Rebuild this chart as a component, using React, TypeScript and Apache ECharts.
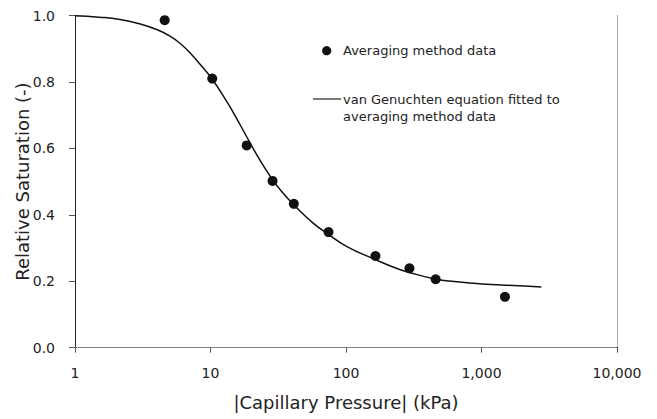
import React, { useEffect, useRef } from "react";
import * as echarts from "echarts";

// Measured data (|capillary pressure| kPa, relative saturation)
const dataPressure = [4.59, 10.3, 18.5, 28.7, 41.2, 74.3, 165, 294, 459, 1490];
const dataSaturation = [0.986, 0.81, 0.609, 0.502, 0.433, 0.348, 0.276, 0.239, 0.206, 0.153];

// Fitted van Genuchten curve
const curvePressure = [1, 1.5, 2.15, 3.0, 4.0, 5.02, 6.0, 7.05, 8.5, 10.3, 13.1, 15.5, 18.5, 23, 28.7, 34, 41.2, 57.2, 73.8, 100.8, 163, 235, 290, 452, 600, 818, 1527, 2765];
const curveSaturation = [0.999, 0.995, 0.988, 0.975, 0.958, 0.938, 0.915, 0.888, 0.85, 0.808, 0.743, 0.692, 0.635, 0.567, 0.506, 0.467, 0.43, 0.375, 0.342, 0.305, 0.266, 0.239, 0.227, 0.207, 0.2, 0.195, 0.188, 0.183];

const yTicks = [0, 0.2, 0.4, 0.6, 0.8, 1.0];
const xTicks = [1, 10, 100, 1000, 10000];

const legendScatter = "Averaging method data";
const legendLine = "van Genuchten equation fitted to\naveraging method data";

const FONT = "DejaVu Sans";

export default function App() {
  const ref = useRef<HTMLDivElement>(null);
  useEffect(() => {
    if (!ref.current) return;
    const chart = echarts.init(ref.current, null, { renderer: "svg" });
    const scatter = dataPressure.map((p, i) => [p, dataSaturation[i]]);
    const curve = curvePressure.map((p, i) => [p, curveSaturation[i]]);
    chart.setOption({
      animation: false,
      backgroundColor: "#fff",
      textStyle: { fontFamily: FONT },
      grid: { left: 75, right: 40, top: 15.5, bottom: 71.3, containLabel: false, outerBoundsMode: "none" },
      xAxis: [
        {
          type: "log",
          logBase: 10,
          min: xTicks[0],
          max: xTicks[xTicks.length - 1],
          name: "|Capillary Pressure| (kPa)",
          nameLocation: "middle",
          nameGap: 46,
          nameMoveOverlap: false,
          nameTextStyle: { fontSize: 18, color: "#222", fontFamily: FONT },
          axisLine: { lineStyle: { color: "#222", width: 1 } },
          axisTick: { show: true, inside: false, length: 5, lineStyle: { color: "#555" } },
          minorTick: { show: false },
          axisLabel: {
            fontSize: 14,
            color: "#222",
            margin: 18,
            fontFamily: FONT,
            formatter: (v: number) => Math.round(v).toLocaleString("en-US"),
          },
          splitLine: { show: false },
        },
        {
          type: "log",
          logBase: 10,
          min: xTicks[0],
          max: xTicks[xTicks.length - 1],
          position: "top",
          axisLine: { lineStyle: { color: "#999", type: "dotted", width: 1 } },
          axisTick: { show: false },
          axisLabel: { show: false },
          splitLine: { show: false },
        },
      ],
      yAxis: [
        {
          type: "value",
          min: yTicks[0],
          max: yTicks[yTicks.length - 1],
          interval: 0.2,
          name: "Relative Saturation (-)",
          nameLocation: "middle",
          nameGap: 44,
          nameMoveOverlap: false,
          nameTextStyle: { fontSize: 18, color: "#222", fontFamily: FONT },
          axisLine: { show: true, lineStyle: { color: "#222", width: 1 } },
          axisTick: { show: true, inside: false, length: 6, lineStyle: { color: "#555" } },
          axisLabel: {
            fontSize: 14,
            color: "#222",
            margin: 20,
            fontFamily: FONT,
            formatter: (v: number) => v.toFixed(1),
          },
          splitLine: { show: false },
        },
        {
          type: "value",
          min: yTicks[0],
          max: yTicks[yTicks.length - 1],
          interval: 0.2,
          position: "right",
          axisLine: { show: true, lineStyle: { color: "#999", type: "dotted", width: 1 } },
          axisTick: { show: false },
          axisLabel: { show: false },
          splitLine: { show: false },
        },
      ],
      series: [
        {
          type: "line",
          name: "fit",
          data: curve,
          xAxisIndex: 0,
          yAxisIndex: 0,
          showSymbol: false,
          symbol: "none",
          smooth: 0.5,
          lineStyle: { color: "#111", width: 1.5 },
          z: 2,
        },
        {
          type: "scatter",
          name: "data",
          data: scatter,
          xAxisIndex: 0,
          yAxisIndex: 0,
          symbol: "circle",
          symbolSize: 10,
          itemStyle: { color: "#111", opacity: 1 },
          z: 3,
        },
      ],
      graphic: [
        { type: "circle", shape: { cx: 326.7, cy: 50.7, r: 4.6 }, style: { fill: "#111" } },
        {
          type: "text",
          x: 343,
          y: 50.7,
          style: { text: legendScatter, fontSize: 13, fontFamily: FONT, fill: "#222", verticalAlign: "middle" },
        },
        {
          type: "line",
          shape: { x1: 313, y1: 99, x2: 341, y2: 99 },
          style: { stroke: "#222", lineWidth: 1.2 },
        },
        {
          type: "text",
          x: 343,
          y: 90.25,
          style: {
            text: legendLine,
            fontSize: 13,
            lineHeight: 17.5,
            fontFamily: FONT,
            fill: "#222",
            verticalAlign: "top",
          },
        },
      ],
    });
    return () => chart.dispose();
  }, []);
  return <div ref={ref} style={{ width: 657, height: 419, position: "absolute", left: 0, top: 0 }} />;
}
